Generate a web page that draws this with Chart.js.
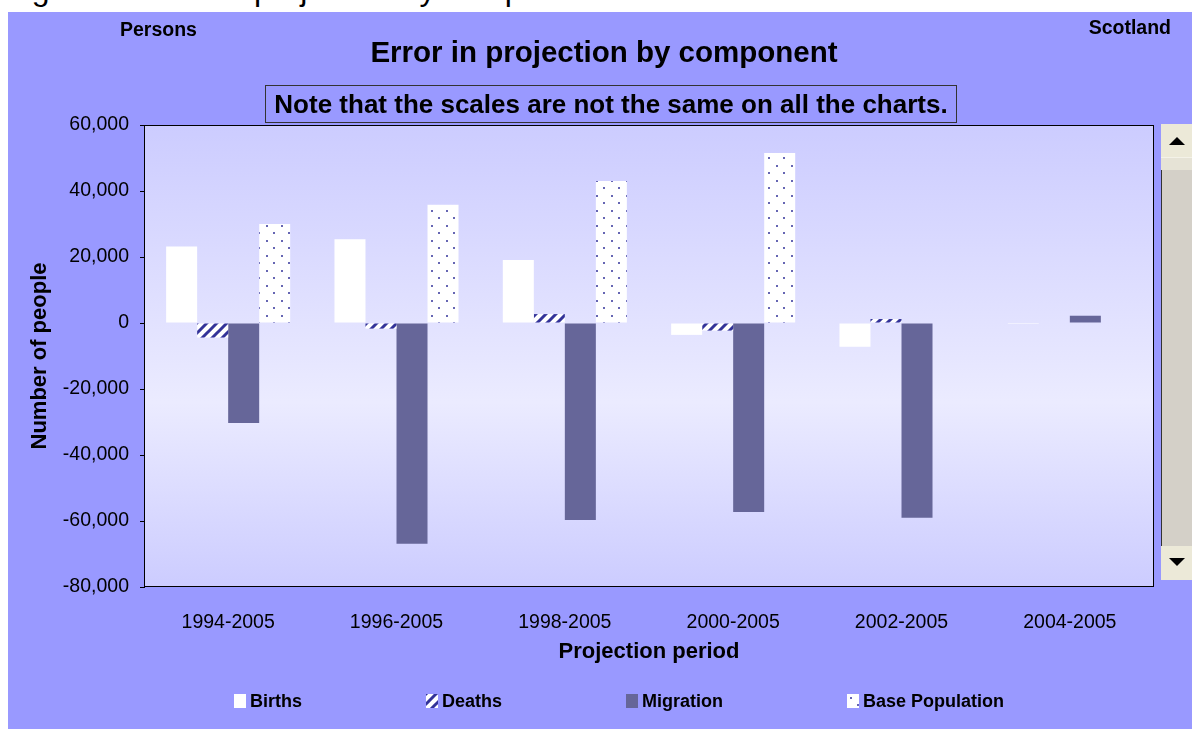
<!DOCTYPE html>
<html>
<head>
<meta charset="utf-8">
<script src="https://cdn.jsdelivr.net/npm/chart.js@4.4.1/dist/chart.umd.min.js"></script>
<style>
    body { margin: 0; width: 1192px; height: 729px; overflow: hidden; position: relative; background: #fff; font-family: Arial, "Liberation Sans", sans-serif; color: #000; }
    #figura { position: absolute; left: 5px; top: -27px; font-size: 32px; line-height: 32px; white-space: nowrap; }
    #painel { position: absolute; left: 8px; top: 12px; width: 1184px; height: 717px; background: #9999ff; overflow: hidden; }
    #grafico { position: absolute; left: 0; top: 0; }
    .rotulo { position: absolute; font-weight: bold; white-space: nowrap; }
    #persons { left: 112px; top: 6px; font-size: 19.5px; line-height: 22px; }
    #scotland { right: 21px; top: 4px; font-size: 19.5px; line-height: 22px; }
    #titulo { left: 0; width: 1192px; top: 23px; text-align: center; font-size: 29.5px; line-height: 34px; }
    #nota { left: 257px; top: 73px; width: 692px; height: 38px; box-sizing: border-box; border: 1px solid #333; text-align: center; font-size: 26px; line-height: 36px; }
    #legenda { position: absolute; left: 0; width: 1222px; top: 678px; display: flex; justify-content: center; gap: 124px; }
    .item { display: flex; align-items: center; font-weight: bold; font-size: 18px; line-height: 22px; }
    .item canvas { margin-right: 4px; }
    #rolagem { position: absolute; left: 1153px; top: 112px; width: 31px; height: 456px; background: #d4d0c8; }
    #rolagem .botao { position: absolute; left: 0; width: 31px; background: #ece9d8; }
    #cima { top: 0; height: 33px; border-bottom: 1px solid #f4f2e8; }
    #polegar { position: absolute; left: 0; top: 34px; width: 31px; height: 12px; background: #e6e3d6; }
    #baixo { bottom: 0; height: 34px; }
    #trilho { position: absolute; left: 0; top: 46px; width: 1px; height: 410px; background: #333; }
    .seta { position: absolute; left: 8px; width: 0; height: 0; border-left: 8px solid transparent; border-right: 8px solid transparent; }
    #cima .seta { top: 13px; border-bottom: 8px solid #000; }
    #baixo .seta { top: 12px; border-top: 8px solid #000; }
</style>
</head>
<body>
<div id="figura">Figure 5: Error in projection by component</div>
<div id="painel">
    <canvas id="grafico" width="1184" height="717"></canvas>
    <div class="rotulo" id="persons">Persons</div>
    <div class="rotulo" id="scotland">Scotland</div>
    <div class="rotulo" id="titulo">Error in projection by component</div>
    <div class="rotulo" id="nota">Note that the scales are not the same on all the charts.</div>
    <div id="legenda"></div>
    <div id="rolagem">
        <div class="botao" id="cima"><div class="seta"></div></div>
        <div id="polegar"></div>
        <div id="trilho"></div>
        <div class="botao" id="baixo"><div class="seta"></div></div>
    </div>
</div>
<script>
const periodos = ['1994-2005', '1996-2005', '1998-2005', '2000-2005', '2002-2005', '2004-2005'];
const nascimentos = [23200, 25400, 19100, -3600, -7200, -300];
const obitos = [-4400, -1700, 2700, -2300, 1200, 0];
const migracao = [-30300, -66900, -59700, -57300, -59000, 2200];
const populacaoBase = [30000, 35800, 43000, 51500, 0, 0];
const nomesSeries = ['Births', 'Deaths', 'Migration', 'Base Population'];
const ticksY = [-80000, -60000, -40000, -20000, 0, 20000, 40000, 60000];

function padraoListras(ctx) {
    const c = document.createElement('canvas');
    c.width = 10; c.height = 10;
    const g = c.getContext('2d');
    g.fillStyle = '#ffffff';
    g.fillRect(0, 0, 10, 10);
    g.strokeStyle = '#333399';
    g.lineWidth = 3;
    g.beginPath();
    g.moveTo(-2, 12); g.lineTo(12, -2);
    g.moveTo(-2, 2); g.lineTo(2, -2);
    g.moveTo(8, 12); g.lineTo(12, 8);
    g.stroke();
    return ctx.createPattern(c, 'repeat');
}

function padraoPontos(ctx) {
    const c = document.createElement('canvas');
    c.width = 15; c.height = 15;
    const g = c.getContext('2d');
    g.fillStyle = '#ffffff';
    g.fillRect(0, 0, 15, 15);
    g.fillStyle = 'rgba(51, 51, 153, 0.75)';
    g.fillRect(3, 3, 2, 2);
    g.fillRect(10, 10, 2, 2);
    return ctx.createPattern(c, 'repeat');
}

// fundo em degradê e moldura da área do gráfico
const fundoPlot = {
    id: 'fundoPlot',
    beforeDraw(chart) {
        const { ctx, chartArea: a } = chart;
        const grad = ctx.createLinearGradient(0, a.top, 0, a.bottom);
        grad.addColorStop(0, '#ccccff');
        grad.addColorStop(0.6, '#ebebff');
        grad.addColorStop(1, '#ccccff');
        ctx.save();
        ctx.fillStyle = grad;
        ctx.fillRect(a.left, a.top, a.right - a.left, a.bottom - a.top);
        ctx.strokeStyle = '#000';
        ctx.lineWidth = 1;
        ctx.strokeRect(a.left + 0.5, a.top + 0.5, a.right - a.left - 1, a.bottom - a.top - 1);
        ctx.restore();
    }
};

const ctx = document.getElementById('grafico').getContext('2d');
const cores = ['#ffffff', padraoListras(ctx), '#666699', padraoPontos(ctx)];
const valores = [nascimentos, obitos, migracao, populacaoBase];

const grafico = new Chart(ctx, {
    type: 'bar',
    data: {
        labels: periodos,
        datasets: nomesSeries.map((nome, i) => ({
            label: nome,
            data: valores[i],
            backgroundColor: cores[i],
            borderWidth: 0,
            categoryPercentage: 0.737,
            barPercentage: 1
        }))
    },
    options: {
        responsive: false,
        animation: false,
        layout: { padding: { top: 113, right: 38, bottom: 42, left: 0 } },
        plugins: {
            legend: { display: false },
            tooltip: { enabled: false }
        },
        scales: {
            x: {
                grid: { display: false },
                border: { display: false },
                ticks: { color: '#000', font: { family: 'Arial, "Liberation Sans"', size: 19.5 }, padding: 16, maxRotation: 0 },
                title: {
                    display: true, text: 'Projection period', color: '#000',
                    font: { family: 'Arial, "Liberation Sans"', size: 22, weight: 'bold' },
                    padding: { top: 0, bottom: 22 }
                },
                afterFit: s => { s.height = 100; }
            },
            y: {
                min: ticksY[0],
                max: ticksY[ticksY.length - 1],
                afterBuildTicks: s => { s.ticks = ticksY.map(v => ({ value: v })); },
                grid: { drawOnChartArea: false, drawTicks: true, tickLength: 4, color: '#000' },
                border: { display: true, color: '#000' },
                ticks: {
                    color: '#000', padding: 11,
                    font: { family: 'Arial, "Liberation Sans"', size: 19.5 },
                    callback: v => v.toLocaleString('en-US')
                },
                title: {
                    display: true, text: 'Number of people', color: '#000',
                    font: { family: 'Arial, "Liberation Sans"', size: 22, weight: 'bold' },
                    padding: { top: 19, bottom: 0 }
                },
                afterFit: s => { s.width = 136; }
            }
        }
    },
    plugins: [fundoPlot]
});

// legenda montada a partir das séries
const legenda = document.getElementById('legenda');
nomesSeries.forEach((nome, i) => {
    const item = document.createElement('div');
    item.className = 'item';
    const marca = document.createElement('canvas');
    marca.width = 12; marca.height = 14;
    const g = marca.getContext('2d');
    g.fillStyle = i === 1 ? padraoListras(g) : (i === 3 ? padraoPontos(g) : cores[i]);
    g.fillRect(0, 0, 12, 14);
    item.appendChild(marca);
    item.appendChild(document.createTextNode(nome));
    legenda.appendChild(item);
});
</script>
</body>
</html>
